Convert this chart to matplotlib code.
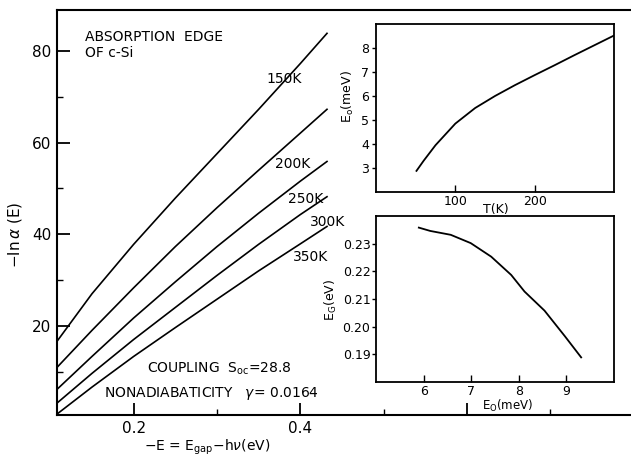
import matplotlib
matplotlib.use('Agg')
import matplotlib.pyplot as plt
from matplotlib.ticker import FixedLocator

# main panel: -ln alpha vs -E for five temperatures
x_main = [0.108, 0.15, 0.2, 0.25, 0.3, 0.35, 0.4, 0.432]
curves = {
    '150K': [16.6, 27.0, 37.8, 47.9, 57.6, 67.3, 77.3, 83.9],
    '200K': [10.9, 19.0, 28.3, 37.3, 45.8, 54.0, 62.1, 67.3],
    '250K': [6.1, 13.3, 21.7, 29.6, 37.3, 44.6, 51.6, 55.9],
    '300K': [3.1, 9.6, 17.0, 24.0, 31.0, 37.8, 44.3, 48.2],
    '350K': [0.7, 6.6, 13.3, 19.6, 25.8, 32.0, 37.9, 41.7],
}
label_pos = {
    '150K': (0.381, 73.9),
    '200K': (0.391, 55.4),
    '250K': (0.406, 47.6),
    '300K': (0.433, 42.6),
    '350K': (0.412, 35.1),
}

# upper inset: E0 vs T
temp = [51, 60, 75, 100, 125, 150, 175, 200, 225, 250, 275, 300]
e0_temp = [2.88, 3.3, 3.95, 4.85, 5.5, 6.0, 6.45, 6.87, 7.28, 7.7, 8.11, 8.52]

# lower inset: EG vs E0
e0 = [5.9, 6.14, 6.57, 6.99, 7.42, 7.84, 8.12, 8.54, 8.97, 9.31]
eg = [0.2358, 0.2346, 0.2332, 0.2302, 0.2253, 0.2187, 0.2127, 0.2058, 0.1965, 0.1889]

W, H = 631, 461
fig = plt.figure(figsize=(W / 100, H / 100), dpi=100)


def box(l, t, r, b):
    return [l / W, 1 - b / H, (r - l) / W, (b - t) / H]


ax = fig.add_axes(box(57, 10, 632, 415))
for name, ys in curves.items():
    ax.plot(x_main, ys, color='black', lw=1.2)
    ax.text(*label_pos[name], name, fontsize=10, ha='center', va='center')
ax.set_xlim(0.108, 0.798)
ax.set_ylim(0.5, 89)
ax.spines['right'].set_visible(False)
for s in ['left', 'top', 'bottom']:
    ax.spines[s].set_linewidth(1.5)
ax.xaxis.set_major_locator(FixedLocator([0.2, 0.4, 0.6]))
ax.set_xticklabels(['0.2', '0.4', ''])
ax.xaxis.set_minor_locator(FixedLocator([0.3, 0.5, 0.7]))
ax.yaxis.set_major_locator(FixedLocator([20, 40, 60, 80]))
ax.yaxis.set_minor_locator(FixedLocator([10, 30, 50, 70]))
ax.tick_params(which='major', direction='in', length=9, width=1.3, labelsize=11, pad=4)
ax.tick_params(which='minor', direction='in', length=4, width=1.0)
ax.tick_params(axis='y', which='both', right=False)

fig.text(85 / W, 1 - 37 / H, 'ABSORPTION  EDGE', fontsize=10, va='center')
fig.text(85 / W, 1 - 53 / H, 'OF c-Si', fontsize=10, va='center')
fig.text(147 / W, 1 - 369 / H, r'COUPLING  S$_{\rm oc}$=28.8', fontsize=10, va='center')
fig.text(104 / W, 1 - 393 / H, r'NONADIABATICITY   $\gamma$= 0.0164', fontsize=10, va='center')
fig.text(15 / W, 1 - 235 / H, r'$-$ln$\,\alpha$ (E)', fontsize=11, rotation=90,
         ha='center', va='center')
fig.text(207 / W, 1 - 447 / H, r'$-$E = E$_{\rm gap}$$-$h$\nu$(eV)', fontsize=10,
         ha='center', va='center')

# upper inset
ax1 = fig.add_axes(box(376, 24, 614, 192))
ax1.plot(temp, e0_temp, color='black', lw=1.3)
ax1.set_xlim(0, 300)
ax1.set_ylim(2, 9)
ax1.xaxis.set_major_locator(FixedLocator([100, 200]))
ax1.yaxis.set_major_locator(FixedLocator([3, 4, 5, 6, 7, 8]))
ax1.tick_params(axis='x', direction='in', length=5, width=1.0, labelsize=9, pad=2)
ax1.tick_params(axis='y', direction='out', length=3, width=1.0, labelsize=9, pad=2)
for s in ax1.spines.values():
    s.set_linewidth(1.3)
fig.text(348 / W, 1 - 97 / H, r'E$_{\rm o}$(meV)', fontsize=9, rotation=90,
         ha='center', va='center')
fig.text(496 / W, 1 - 209 / H, 'T(K)', fontsize=9, ha='center', va='center')

# lower inset
ax2 = fig.add_axes(box(376, 216, 614, 382))
ax2.plot(e0, eg, color='black', lw=1.3)
ax2.set_xlim(5, 10)
ax2.set_ylim(0.18, 0.24)
ax2.xaxis.set_major_locator(FixedLocator([6, 7, 8, 9]))
ax2.yaxis.set_major_locator(FixedLocator([0.19, 0.20, 0.21, 0.22, 0.23]))
ax2.set_yticklabels(['0.19', '0.20', '0.21', '0.22', '0.23'])
ax2.tick_params(axis='x', direction='in', length=5, width=1.0, labelsize=9, pad=2)
ax2.tick_params(axis='y', direction='out', length=3, width=1.0, labelsize=9, pad=1)
for s in ax2.spines.values():
    s.set_linewidth(1.3)
fig.text(331 / W, 1 - 300 / H, r'E$_{\rm G}$(eV)', fontsize=9, rotation=90,
         ha='center', va='center')
fig.text(508 / W, 1 - 406 / H, r'E$_{\rm O}$(meV)', fontsize=8.5, ha='center', va='center')

fig.savefig('out.png', dpi=100)
